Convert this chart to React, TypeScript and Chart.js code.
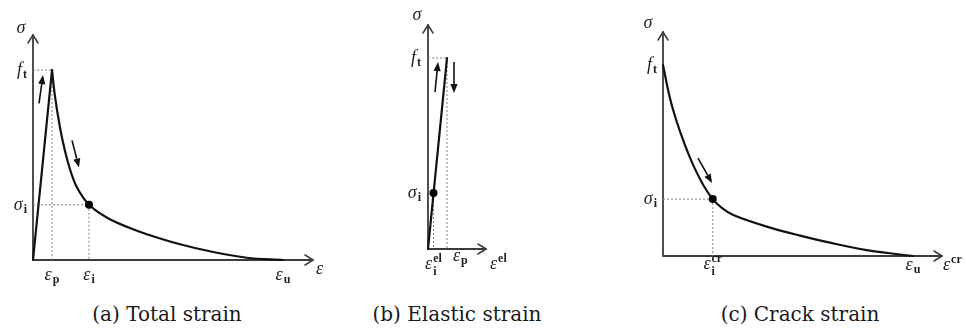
import React, { useEffect, useRef } from "react";
import { Chart, registerables } from "chart.js";

Chart.register(...registerables);

type ML = { base: string; sub?: string; sup?: string };

// ---------- (a) Total strain ----------
const totalLoadingX = [0, 0.076];
const totalLoadingY = [0, 1.0];
const totalSofteningX = [0.076, 0.088, 0.108, 0.128, 0.148, 0.175, 0.224, 0.295, 0.38, 0.455, 0.588, 0.721, 0.855, 1.0];
const totalSofteningY = [1.0, 0.862, 0.698, 0.574, 0.478, 0.384, 0.291, 0.224, 0.172, 0.136, 0.083, 0.042, 0.012, 0];
const totalStatePoint = [0.224, 0.291];
const totalGuidesH = [[1.0, 0.076], [0.291, 0.224]]; // [y, x-end]
const totalGuidesV = [[0.076, 1.0], [0.224, 0.291]]; // [x, y-top]
const totalXTickValues = [0.076, 0.224, 1.0];
const totalXTickLabels: ML[] = [{ base: "ε", sub: "p" }, { base: "ε", sub: "i" }, { base: "ε", sub: "u" }];
const totalYTickValues = [1.0, 0.291];
const totalYTickLabels: ML[] = [{ base: "f", sub: "t" }, { base: "σ", sub: "i" }];
const totalArrowTails = [[0.024, 0.825], [0.156, 0.63]];
const totalArrowHeads = [[0.04, 0.974], [0.184, 0.487]];
const totalAxisNames: ML[] = [{ base: "ε" }, { base: "σ" }];
const totalRange = [1.12, 1.185];

// ---------- (b) Elastic strain ----------
const elasticLineX = [0, 0.076];
const elasticLineY = [0, 1.0];
const elasticStatePoint = [0.022, 0.293];
const elasticGuidesH = [[1.0, 0.076]];
const elasticGuidesV = [[0.076, 1.0], [0.022, 0.293]];
const elasticXTickValues = [0.022, 0.076];
const elasticXTickLabels: ML[] = [{ base: "ε", sub: "i", sup: "el" }, { base: "ε", sub: "p" }];
const elasticYTickValues = [1.0, 0.293];
const elasticYTickLabels: ML[] = [{ base: "f", sub: "t" }, { base: "σ", sub: "i" }];
const elasticArrowTails = [[0.028, 0.822], [0.104, 0.979]];
const elasticArrowHeads = [[0.04, 0.979], [0.104, 0.817]];
const elasticAxisNames: ML[] = [{ base: "ε", sup: "el" }, { base: "σ" }];
const elasticRange = [0.232, 1.173];

// ---------- (c) Crack strain ----------
const crackCurveX = [0, 0.028, 0.055, 0.088, 0.121, 0.161, 0.199, 0.235, 0.281, 0.415, 0.548, 0.681, 0.815, 0.948, 1.0];
const crackCurveY = [1.0, 0.826, 0.703, 0.581, 0.476, 0.372, 0.298, 0.252, 0.215, 0.154, 0.107, 0.066, 0.031, 0.008, 0];
const crackStatePoint = [0.199, 0.298];
const crackGuidesH = [[0.298, 0.199]];
const crackGuidesV = [[0.199, 0.298]];
const crackXTickValues = [0.199, 1.0];
const crackXTickLabels: ML[] = [{ base: "ε", sub: "i", sup: "cr" }, { base: "ε", sub: "u" }];
const crackYTickValues = [1.0, 0.298];
const crackYTickLabels: ML[] = [{ base: "f", sub: "t" }, { base: "σ", sub: "i" }];
const crackArrowTails = [[0.14, 0.513]];
const crackArrowHeads = [[0.196, 0.382]];
const crackAxisNames: ML[] = [{ base: "ε", sup: "cr" }, { base: "σ" }];
const crackRange = [1.116, 1.173];

const captions = ["(a) Total strain", "(b) Elastic strain", "(c) Crack strain"];

// ---------- styling ----------
const INK = "#1e1e1e";
const AXIS = "#3c3c3c";
const GUIDE = "#8c8c8c";
const MAIN_FONT = "italic 18px 'Liberation Serif', 'DejaVu Serif', serif";
const SCRIPT_FONT = "bold 12px 'Liberation Serif', 'DejaVu Serif', serif";

type TickStyle = { align: CanvasTextAlign; dx: number; dy: number };
type Panel = {
  left: number;
  width: number;
  height: number;
  pad: { left: number; right: number; top: number; bottom: number };
  range: number[];
  lines: { x: number[]; y: number[]; smooth: boolean }[];
  point: number[];
  guidesH: number[][];
  guidesV: number[][];
  xTickValues: number[];
  xTickLabels: ML[];
  xTickStyles: TickStyle[];
  yTickValues: number[];
  yTickLabels: ML[];
  yTickDx: number;
  yTickDy: number;
  axisNames: ML[];
  xNameOffset: number[];
  yNameOffset: number[];
  arrowTails: number[][];
  arrowHeads: number[][];
  captionCenter: number;
};

const panels: Panel[] = [
  {
    left: 0,
    width: 340,
    height: 292,
    pad: { left: 33, right: 27, top: 35, bottom: 32 },
    range: totalRange,
    lines: [
      { x: totalLoadingX, y: totalLoadingY, smooth: false },
      { x: totalSofteningX, y: totalSofteningY, smooth: true },
    ],
    point: totalStatePoint,
    guidesH: totalGuidesH,
    guidesV: totalGuidesV,
    xTickValues: totalXTickValues,
    xTickLabels: totalXTickLabels,
    xTickStyles: [
      { align: "center", dx: 0, dy: 20 },
      { align: "center", dx: 0, dy: 20 },
      { align: "center", dx: 0, dy: 20 },
    ],
    yTickValues: totalYTickValues,
    yTickLabels: totalYTickLabels,
    yTickDx: -6,
    yTickDy: 5,
    axisNames: totalAxisNames,
    xNameOffset: [3, 14],
    yNameOffset: [-12, -2],
    arrowTails: totalArrowTails,
    arrowHeads: totalArrowHeads,
    captionCenter: 167,
  },
  {
    left: 380,
    width: 180,
    height: 292,
    pad: { left: 48, right: 74, top: 25, bottom: 43 },
    range: elasticRange,
    lines: [{ x: elasticLineX, y: elasticLineY, smooth: false }],
    point: elasticStatePoint,
    guidesH: elasticGuidesH,
    guidesV: elasticGuidesV,
    xTickValues: elasticXTickValues,
    xTickLabels: elasticXTickLabels,
    xTickStyles: [
      { align: "center", dx: 0, dy: 20 },
      { align: "left", dx: 6, dy: 12 },
    ],
    yTickValues: elasticYTickValues,
    yTickLabels: elasticYTickLabels,
    yTickDx: -7,
    yTickDy: 5,
    axisNames: elasticAxisNames,
    xNameOffset: [4, 20],
    yNameOffset: [-11, -5],
    arrowTails: elasticArrowTails,
    arrowHeads: elasticArrowHeads,
    captionCenter: 457,
  },
  {
    left: 630,
    width: 336,
    height: 292,
    pad: { left: 33, right: 24, top: 32, bottom: 36 },
    range: crackRange,
    lines: [{ x: crackCurveX, y: crackCurveY, smooth: true }],
    point: crackStatePoint,
    guidesH: crackGuidesH,
    guidesV: crackGuidesV,
    xTickValues: crackXTickValues,
    xTickLabels: crackXTickLabels,
    xTickStyles: [
      { align: "center", dx: 0, dy: 13 },
      { align: "center", dx: 0, dy: 14 },
    ],
    yTickValues: crackYTickValues,
    yTickLabels: crackYTickLabels,
    yTickDx: -6,
    yTickDy: 5,
    axisNames: crackAxisNames,
    xNameOffset: [1, 14],
    yNameOffset: [-15, -4],
    arrowTails: crackArrowTails,
    arrowHeads: crackArrowHeads,
    captionCenter: 800,
  },
];

function drawML(ctx: CanvasRenderingContext2D, lab: ML, x: number, y: number, align: CanvasTextAlign) {
  ctx.save();
  ctx.fillStyle = INK;
  ctx.textAlign = "left";
  ctx.textBaseline = "alphabetic";
  ctx.font = MAIN_FONT;
  const bw = ctx.measureText(lab.base).width;
  ctx.font = SCRIPT_FONT;
  const sw = lab.sub ? ctx.measureText(lab.sub).width : 0;
  const pw = lab.sup ? ctx.measureText(lab.sup).width : 0;
  const ew = Math.max(sw, pw);
  const gap = ew ? 1 : 0;
  const tw = bw + gap + ew;
  const x0 = align === "center" ? x - tw / 2 : align === "right" ? x - tw : x;
  ctx.font = MAIN_FONT;
  ctx.fillText(lab.base, x0, y);
  ctx.font = SCRIPT_FONT;
  if (lab.sub) ctx.fillText(lab.sub, x0 + bw + gap, y + (lab.sup ? 6 : 3));
  if (lab.sup) ctx.fillText(lab.sup, x0 + bw + gap, y - 7);
  ctx.restore();
}

function drawArrow(ctx: CanvasRenderingContext2D, x1: number, y1: number, x2: number, y2: number) {
  const ang = Math.atan2(y2 - y1, x2 - x1);
  const L = 9;
  const W = 3.6;
  const bx = x2 - L * Math.cos(ang);
  const by = y2 - L * Math.sin(ang);
  ctx.save();
  ctx.strokeStyle = "#111";
  ctx.fillStyle = "#111";
  ctx.lineWidth = 1.6;
  ctx.beginPath();
  ctx.moveTo(x1, y1);
  ctx.lineTo(bx, by);
  ctx.stroke();
  ctx.beginPath();
  ctx.moveTo(x2, y2);
  ctx.lineTo(bx + W * Math.sin(ang), by - W * Math.cos(ang));
  ctx.lineTo(bx - W * Math.sin(ang), by + W * Math.cos(ang));
  ctx.closePath();
  ctx.fill();
  ctx.restore();
}

function decoPlugin(p: Panel) {
  return {
    id: "deco",
    beforeDatasetsDraw(chart: any) {
      const { ctx, chartArea: a } = chart;
      ctx.save();
      ctx.strokeStyle = AXIS;
      ctx.lineWidth = 1.8;
      ctx.lineCap = "round";
      ctx.lineJoin = "round";
      ctx.beginPath();
      ctx.moveTo(a.left, a.bottom);
      ctx.lineTo(a.left, a.top);
      ctx.moveTo(a.left, a.bottom);
      ctx.lineTo(a.right, a.bottom);
      ctx.stroke();
      ctx.lineWidth = 1.5;
      ctx.beginPath();
      ctx.moveTo(a.left - 5, a.top + 8);
      ctx.lineTo(a.left, a.top);
      ctx.lineTo(a.left + 5, a.top + 8);
      ctx.moveTo(a.right - 8, a.bottom - 5);
      ctx.lineTo(a.right, a.bottom);
      ctx.lineTo(a.right - 8, a.bottom + 5);
      ctx.stroke();
      ctx.restore();
    },
    afterDatasetsDraw(chart: any) {
      const { ctx, chartArea: a, scales } = chart;
      const xs = scales.x;
      const ys = scales.y;
      p.xTickValues.forEach((v, i) => {
        const st = p.xTickStyles[i];
        drawML(ctx, p.xTickLabels[i], xs.getPixelForValue(v) + st.dx, a.bottom + st.dy, st.align);
      });
      p.yTickValues.forEach((v, i) => {
        drawML(ctx, p.yTickLabels[i], a.left + p.yTickDx, ys.getPixelForValue(v) + p.yTickDy, "right");
      });
      drawML(ctx, p.axisNames[0], a.right + p.xNameOffset[0], a.bottom + p.xNameOffset[1], "left");
      drawML(ctx, p.axisNames[1], a.left + p.yNameOffset[0], a.top + p.yNameOffset[1], "center");
      p.arrowTails.forEach((t, i) => {
        const h = p.arrowHeads[i];
        drawArrow(
          ctx,
          xs.getPixelForValue(t[0]),
          ys.getPixelForValue(t[1]),
          xs.getPixelForValue(h[0]),
          ys.getPixelForValue(h[1])
        );
      });
    },
  };
}

function buildDatasets(p: Panel) {
  const ds: any[] = [];
  ds.push({
    data: [{ x: p.point[0], y: p.point[1] }],
    showLine: false,
    pointRadius: 4,
    pointBackgroundColor: "#000",
    pointBorderColor: "#000",
    pointBorderWidth: 0,
    order: 0,
    clip: false,
  });
  p.lines.forEach((l) => {
    ds.push({
      data: l.x.map((x, i) => ({ x, y: l.y[i] })),
      showLine: true,
      borderColor: "#111",
      borderWidth: 2.2,
      pointRadius: 0,
      tension: l.smooth ? 0.35 : 0,
      cubicInterpolationMode: "default",
      borderCapStyle: "round",
      borderJoinStyle: "round",
      order: 1,
      clip: false,
    });
  });
  p.guidesH.forEach((g) => {
    ds.push({
      data: [
        { x: 0, y: g[0] },
        { x: g[1], y: g[0] },
      ],
      showLine: true,
      borderColor: GUIDE,
      borderWidth: 1.1,
      borderDash: [2, 2],
      pointRadius: 0,
      order: 2,
      clip: false,
    });
  });
  p.guidesV.forEach((g) => {
    ds.push({
      data: [
        { x: g[0], y: g[1] },
        { x: g[0], y: 0 },
      ],
      showLine: true,
      borderColor: GUIDE,
      borderWidth: 1.1,
      borderDash: [2, 2],
      pointRadius: 0,
      order: 2,
      clip: false,
    });
  });
  return ds;
}

export default function App() {
  const refA = useRef<HTMLCanvasElement>(null);
  const refB = useRef<HTMLCanvasElement>(null);
  const refC = useRef<HTMLCanvasElement>(null);
  const refs = [refA, refB, refC];

  useEffect(() => {
    const charts = panels.map(
      (p, i) =>
        new Chart(refs[i].current as HTMLCanvasElement, {
          type: "scatter",
          data: { datasets: buildDatasets(p) },
          options: {
            animation: false,
            responsive: false,
            devicePixelRatio: 1,
            events: [],
            layout: { padding: p.pad },
            scales: {
              x: { type: "linear", min: 0, max: p.range[0], display: false },
              y: { type: "linear", min: 0, max: p.range[1], display: false },
            },
            plugins: { legend: { display: false }, tooltip: { enabled: false } },
          },
          plugins: [decoPlugin(p)],
        } as any)
    );
    return () => charts.forEach((c) => c.destroy());
  }, []);

  const captionStyle = (center: number): React.CSSProperties => ({
    position: "absolute",
    left: center - 120,
    width: 240,
    top: 304,
    lineHeight: "20px",
    textAlign: "center",
    fontFamily: "'DejaVu Serif', serif",
    fontSize: 20,
    color: "#1a1a1a",
    whiteSpace: "nowrap",
  });

  return (
    <div style={{ position: "absolute", left: 0, top: 0, width: 966, height: 330, background: "#fff", overflow: "hidden" }}>
      <canvas ref={refA} width={panels[0].width} height={panels[0].height} style={{ position: "absolute", left: panels[0].left, top: 0 }} />
      <canvas ref={refB} width={panels[1].width} height={panels[1].height} style={{ position: "absolute", left: panels[1].left, top: 0 }} />
      <canvas ref={refC} width={panels[2].width} height={panels[2].height} style={{ position: "absolute", left: panels[2].left, top: 0 }} />
      <div style={captionStyle(panels[0].captionCenter)}>{captions[0]}</div>
      <div style={captionStyle(panels[1].captionCenter)}>{captions[1]}</div>
      <div style={captionStyle(panels[2].captionCenter)}>{captions[2]}</div>
    </div>
  );
}
